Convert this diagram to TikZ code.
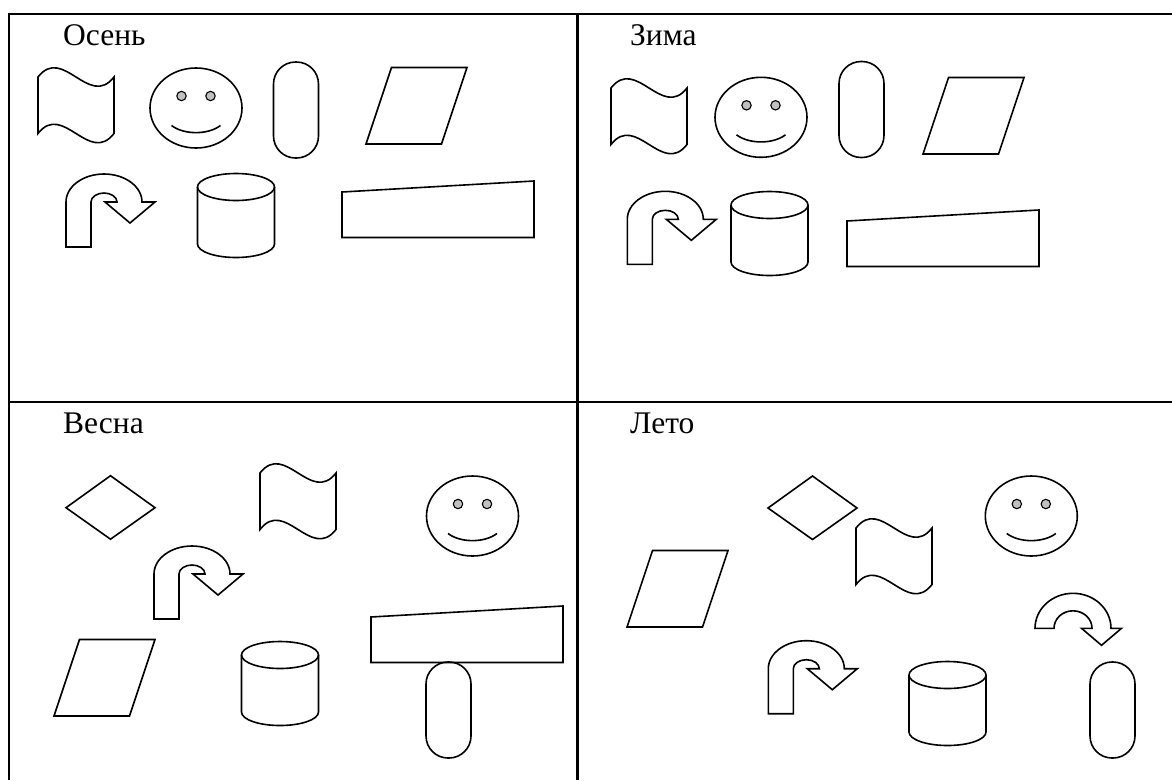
\documentclass[tikz,border=0pt]{standalone}
\usepackage{fontspec}
\setmainfont{Liberation Serif}
\usepackage{xcolor}
\definecolor{glaz}{RGB}{192,192,192}
\tikzset{
  kontur/.style={draw=black,line width=1.6pt,line join=miter},
  setka/.style={draw=black,line width=2.2pt},
  sezon/.style={anchor=base west,inner sep=0pt,font=\fontsize{31.5}{38}\selectfont},
  volna/.pic={\draw[kontur] (0,0) .. controls (25,-32) and (51,32) .. (76,0) -- (76,56.5)
     .. controls (51,88.5) and (25,24.5) .. (0,56.5) -- cycle;},
  smaylik/.pic={\draw[kontur] (0,0) ellipse[x radius=46,y radius=40];
     \foreach \e in {-14.5,14.5}{\draw[kontur,fill=glaz,line width=1.1pt] (\e,-12) circle[radius=4.7];}
     \draw[kontur] (-24.5,17.5) .. controls (-12,27) and (12,27) .. (24.5,17.5);},
  kapsula/.pic={\draw[kontur,rounded corners=22pt] (-22.5,-48) rectangle (22.5,48);},
  parall/.pic={\draw[kontur] (0,0) -- (75.5,0) -- (101,-76.5) -- (25.5,-76.5) -- cycle;},
  povorot/.pic={\draw[kontur] (-38,45) -- (-38,0) arc[start angle=180,end angle=360,x radius=38,y radius=28]
     -- (51,0) -- (26,21) -- (1,0) -- (13,0) arc[start angle=0,end angle=-180,x radius=13,y radius=9]
     -- (-13,45) -- cycle;},
  duga/.pic={\draw[kontur] (-38,0) arc[start angle=180,end angle=360,x radius=38,y radius=35]
     -- (48.5,0) -- (28.5,17) -- (8.5,0) -- (19,0) arc[start angle=0,end angle=-180,x radius=19,y radius=17.5]
     -- cycle;},
  tsilindr/.pic={\draw[kontur] (0,0) ellipse[x radius=38.5,y radius=13.5];
     \draw[kontur] (-38.5,0) -- (-38.5,57) arc[start angle=180,end angle=0,x radius=38.5,y radius=13.5] -- (38.5,0);},
  planka/.pic={\draw[kontur] (0,0) -- (192,-11) -- (192,45.5) -- (0,45.5) -- cycle;},
  romb/.pic={\draw[kontur] (-44.5,0) -- (0,-32) -- (44.5,0) -- (0,31.5) -- cycle;}
}

\begin{document}
\begin{tikzpicture}[x=1pt,y=-1pt]
\useasboundingbox (0,0) rectangle (1172,780);
% table
\draw[setka] (9,780) -- (9,14) -- (1172,14);
\draw[setka] (577.5,14) -- (577.5,780);
\draw[setka] (9,402) -- (1172,402);
% seasons
\node[sezon] (osen) at (63,45) {Осень};
\node[sezon] (zima) at (630,45) {Зима};
\node[sezon] (vesna) at (63,433) {Весна};
\node[sezon] (leto) at (630,433) {Лето};
% shapes
\foreach \x/\y in {38/77,611/88,260/473,856/528}{\pic at (\x,\y) {volna};}
\foreach \x/\y in {196/108,761/117.3,472.5/516,1031.3/516}{\pic at (\x,\y) {smaylik};}
\foreach \x/\y in {296/110,861.5/109.5,448.5/710,1112.5/710}{\pic at (\x,\y) {kapsula};}
\foreach \x/\y in {366/144,923/154,54/716,627/627}{\pic at (\x,\y) {parall};}
\foreach \x/\y in {104/202,665.3/219.3,192/574,806.3/668.7}{\pic at (\x,\y) {povorot};}
\foreach \x/\y in {236/187,769.5/205,280/655,947.5/675}{\pic at (\x,\y) {tsilindr};}
\foreach \x/\y in {342/192,847/221,371/617}{\pic at (\x,\y) {planka};}
\foreach \x/\y in {110.5/507.7,812.5/508}{\pic at (\x,\y) {romb};}
\pic at (1073,628.3) {duga};
\end{tikzpicture}
\end{document}
